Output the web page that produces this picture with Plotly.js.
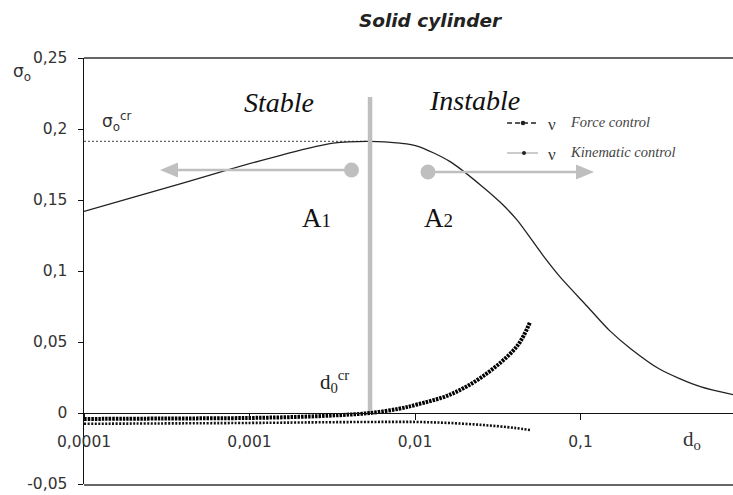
<!DOCTYPE html>
<html>
<head>
<meta charset="utf-8">
<script src="https://cdn.plot.ly/plotly-3.0.1.min.js"></script>
<style>html,body{margin:0;padding:0;background:#fff;}#chart{width:733px;height:495px;}</style>
</head>
<body>
<div id="chart"></div>
<script>
// ---- data ----
const dMain = [0.0001, 0.0002, 0.0004, 0.00073, 0.0016, 0.0032, 0.00535, 0.0081, 0.0103, 0.0163, 0.0258, 0.033, 0.0413, 0.0593, 0.075, 0.11, 0.15, 0.2, 0.3, 0.53, 0.85];
const sigmaMain = [0.142, 0.152, 0.162, 0.171, 0.182, 0.190, 0.1913, 0.190, 0.188, 0.177, 0.159, 0.148, 0.136, 0.111, 0.096, 0.075, 0.058, 0.0455, 0.031, 0.0185, 0.0128];

const dForce = [0.0001, 0.0003, 0.001, 0.002, 0.0035, 0.00535, 0.008, 0.0103, 0.0163, 0.0258, 0.0413, 0.0495];
const sigmaForce = [-0.0042, -0.0039, -0.0035, -0.0027, -0.0015, 0.0, 0.003, 0.006, 0.013, 0.026, 0.047, 0.064];

const dKinematic = [0.0001, 0.001, 0.003, 0.0055, 0.01, 0.016, 0.026, 0.04, 0.0495];
const sigmaKinematic = [-0.0076, -0.007, -0.0065, -0.0063, -0.0063, -0.007, -0.0085, -0.0105, -0.012];

const dCritical = 0.00535;
const sigmaCritical = 0.1913;
const criticalLineTop = 0.2226;

const xTickVals = [0.0001, 0.001, 0.01, 0.1];
const xTickText = ['0,0001', '0,001', '0,01', '0,1'];
const yTickVals = [-0.05, 0, 0.05, 0.1, 0.15, 0.2, 0.25];
const yTickText = ['-0,05', '0', '0,05', '0,1', '0,15', '0,2', '0,25'];

// ---- layout helpers (pixel -> paper) for decorations ----
const L = 84, R = 733, T = 58, B = 484;
const px = x => (x - L) / (R - L);
const py = y => (B - y) / (B - T);

const grey = '#bfbfbf';
const sans = 'DejaVu Sans, sans-serif';
const serif = 'Liberation Serif, Times New Roman, serif';

const traces = [
  {x: [xTickVals[0], dCritical], y: [sigmaCritical, sigmaCritical], mode: 'lines',
   line: {color: '#666', width: 1.2, dash: '2px,2px'}, hoverinfo: 'skip'},
  {x: dMain, y: sigmaMain, mode: 'lines', line: {color: '#222', width: 1.3, shape: 'spline', smoothing: 0.8}},
  {x: [dCritical, dCritical], y: [0, criticalLineTop], mode: 'lines', line: {color: grey, width: 4.5}},
  {x: dKinematic, y: sigmaKinematic, mode: 'lines', line: {color: '#111', width: 2.6, dash: '2px,1.5px', shape: 'spline'}},
  {x: dForce, y: sigmaForce, mode: 'lines', line: {color: '#000', width: 4, dash: '2.5px,1px', shape: 'spline'}}
];

function line(x0, y0, x1, y1, color, width, dash) {
  return {type: 'line', xref: 'paper', yref: 'paper', x0: px(x0), y0: py(y0), x1: px(x1), y1: py(y1),
          line: {color: color, width: width, dash: dash || 'solid'}, layer: 'above'};
}
function circle(cx, cy, r, color) {
  return {type: 'circle', xref: 'paper', yref: 'paper', x0: px(cx - r), x1: px(cx + r), y0: py(cy + r), y1: py(cy - r),
          fillcolor: color, line: {width: 0}, layer: 'above'};
}
function tri(tipX, baseX, cy, h, color) {
  return {type: 'path', xref: 'paper', yref: 'paper',
          path: `M ${px(tipX)} ${py(cy)} L ${px(baseX)} ${py(cy - h)} L ${px(baseX)} ${py(cy + h)} Z`,
          fillcolor: color, line: {width: 0}, layer: 'above'};
}

const shapes = [
  line(L, T, R, T, '#333', 1.3),
  line(L, B + 1, R, B + 1, '#666', 2),
  // stable arrow
  line(351, 170, 176, 170, grey, 2.5),
  tri(160, 178, 170, 7.5, grey),
  circle(351.5, 170, 7.5, grey),
  // instable arrow
  line(428, 172, 578, 172, grey, 2.5),
  tri(594, 576, 172, 7.5, grey),
  circle(428, 172, 7.5, grey),
  // legend samples
  line(507, 123, 538, 123, '#222', 1.4, '5px,3px'),
  circle(523, 123, 2.3, '#222'),
  line(507, 153, 538, 153, '#aaa', 1.2),
  circle(524, 153, 2, '#222')
];

function ann(text, x, y, font, xanchor) {
  return {text: text, xref: 'paper', yref: 'paper', x: px(x), y: py(y), showarrow: false,
          xanchor: xanchor || 'center', yanchor: 'middle', font: font};
}
const annotations = [
  ann('σ<sub>o</sub>', 22, 73, {family: sans, size: 17, color: '#333'}),
  ann('σ<sub>o</sub><sup>cr</sup>', 117, 122, {family: sans, size: 17, color: '#333'}),
  ann('<i>Stable</i>', 279, 103, {family: serif, size: 28, color: '#111'}),
  ann('<i>Instable</i>', 474, 100, {family: serif, size: 28, color: '#111'}),
  ann('A<span style="font-size:19px">1</span>', 316, 218, {family: serif, size: 27, color: '#111'}),
  ann('A<span style="font-size:19px">2</span>', 438, 218, {family: serif, size: 27, color: '#111'}),
  ann('d<sub>0</sub><sup>cr</sup>', 334, 381, {family: serif, size: 21, color: '#222'}),
  ann('d<sub>o</sub>', 692, 440, {family: serif, size: 21, color: '#333'}),
  ann('ν', 552, 124, {family: serif, size: 17, color: '#333'}),
  ann('<i>Force control</i>', 568, 122, {family: serif, size: 14.5, color: '#444'}, 'left'),
  ann('ν', 552, 154, {family: serif, size: 17, color: '#333'}),
  ann('<i>Kinematic control</i>', 568, 152, {family: serif, size: 14.5, color: '#444'}, 'left')
];

const layout = {
  width: 733, height: 495,
  margin: {l: L, r: 733 - R, t: T, b: 495 - B, pad: 0},
  paper_bgcolor: '#fff', plot_bgcolor: '#fff',
  showlegend: false,
  title: {text: '<b><i>Solid cylinder</i></b>', x: px(430), xref: 'paper', xanchor: 'center',
          y: 1 - 21 / 495, yref: 'container', yanchor: 'middle',
          font: {family: sans, size: 18.5, color: '#222'}},
  xaxis: {
    type: 'log', range: [-4, -4 + (R - L) / 165.5],
    anchor: 'free', position: 0.05 / 0.30,
    showline: true, linecolor: '#111', linewidth: 1.3,
    ticks: 'outside', ticklen: 6, tickwidth: 1, tickcolor: '#111',
    tickvals: xTickVals, ticktext: xTickText,
    tickfont: {family: sans, size: 15.5, color: '#333'},
    ticklabelstandoff: 8,
    showgrid: false, zeroline: false
  },
  yaxis: {
    range: [-0.05, 0.25],
    showline: true, linecolor: '#111', linewidth: 1.5,
    ticks: 'outside', ticklen: 5, tickwidth: 1, tickcolor: '#111',
    tickvals: yTickVals, ticktext: yTickText,
    tickfont: {family: sans, size: 15.5, color: '#333'},
    ticklabelstandoff: 7,
    showgrid: false, zeroline: false
  },
  shapes: shapes,
  annotations: annotations
};

Plotly.newPlot('chart', traces, layout, {staticPlot: true, displayModeBar: false});
</script>
</body>
</html>
